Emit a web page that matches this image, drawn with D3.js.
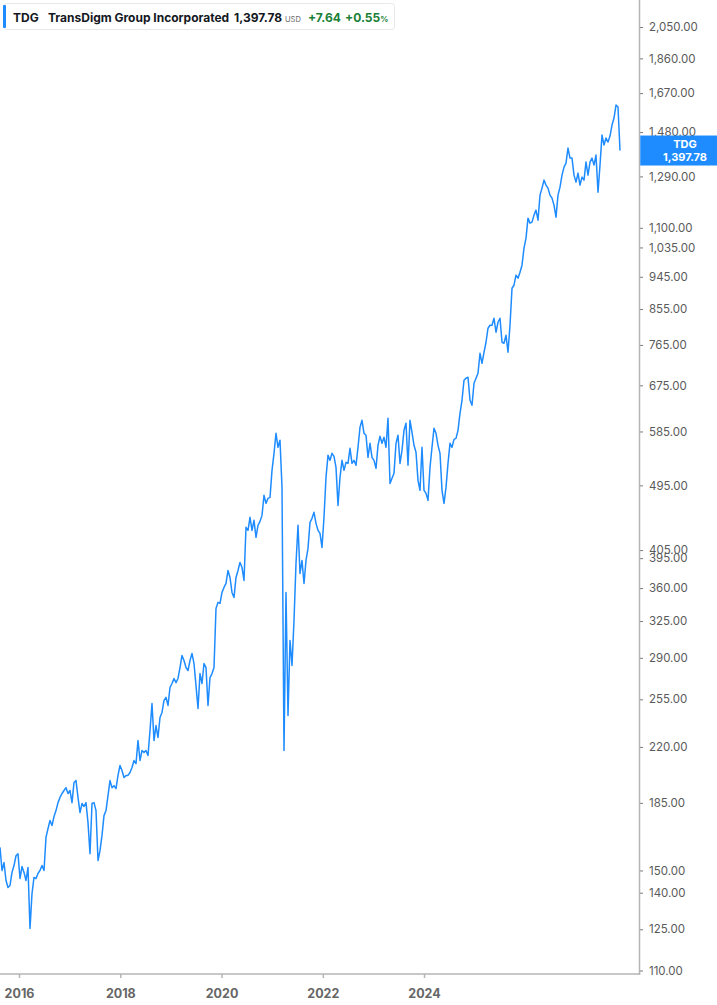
<!DOCTYPE html>
<html>
<head>
<meta charset="utf-8">
<script src="https://cdn.jsdelivr.net/npm/d3@7"></script>
<style>
  html, body { margin: 0; padding: 0; background: #ffffff; }
  svg { display: block; }
</style>
</head>
<body>
<div id="chart"></div>
<script>
// ---------------- DATA ----------------
const ticker = "TDG";
const companyName = "TransDigm Group Incorporated";
const lastPrice = 1397.78;
const currency = "USD";
const change = 7.64;
const changePct = 0.55;

// closing prices, evenly spaced samples from late 2015 to Aug 2025
const closes = [
  161.1, 150.0, 153.7, 145.4, 142.3, 143.2, 149.1, 152.3, 157.0, 158.0,
  146.3, 151.8, 149.1, 145.4, 151.4, 125.3, 139.6, 146.8, 146.3, 148.6,
  150.0, 152.3, 150.0, 166.2, 170.8, 175.1, 172.4, 177.3, 180.6, 185.1,
  188.1, 190.4, 192.2, 193.9, 190.4, 192.2, 185.1, 197.0, 198.2, 188.1,
  179.5, 184.6, 182.9, 185.1, 174.0, 158.0, 184.6, 185.1, 180.6, 154.7,
  159.5, 167.2, 177.8, 180.6, 189.2, 198.2, 193.9, 195.1, 193.3, 201.4,
  207.7, 204.5, 200.1, 201.4, 201.4, 203.2, 206.4, 210.9, 208.9, 224.4,
  210.9, 217.6, 216.3, 217.6, 214.2, 231.5, 251.7, 224.4, 235.1, 226.5,
  241.0, 244.8, 254.1, 256.5, 250.2, 264.5, 267.8, 272.0, 268.6, 272.0,
  281.4, 292.1, 287.6, 281.4, 278.8, 287.6, 294.0, 284.9, 266.1, 247.9,
  276.2, 267.8, 284.9, 281.4, 250.2, 272.8, 276.2, 281.4, 338.0, 344.4,
  343.3, 355.2, 360.7, 365.2, 380.2, 372.0, 355.2, 349.7, 372.0, 380.2,
  389.8, 383.8, 368.6, 434.6, 430.5, 448.3, 430.5, 444.1, 421.3, 437.3,
  442.7, 451.0, 479.9, 468.1, 475.5, 476.9, 518.6, 546.7, 581.7, 557.0,
  569.2, 491.9, 217.6, 355.2, 242.5, 306.0, 283.2, 325.6, 388.6, 437.3,
  376.7, 392.2, 365.2, 392.2, 407.1, 441.4, 446.9, 455.3, 440.0, 430.5,
  426.5, 408.3, 448.3, 507.5, 543.3, 534.9, 546.7, 541.6, 523.4, 465.2,
  507.5, 534.9, 518.6, 531.6, 529.9, 555.2, 529.9, 534.9, 526.7, 557.0,
  592.6, 605.6, 581.7, 578.1, 539.9, 563.9, 539.9, 534.9, 521.8, 560.4,
  576.3, 563.9, 574.5, 557.0, 609.4, 498.0, 505.9, 513.8, 563.9, 578.1,
  529.9, 551.8, 587.1, 600.0, 526.7, 605.6, 583.5, 560.4, 548.4, 502.7,
  487.4, 557.0, 487.4, 482.9, 472.5, 523.4, 557.0, 590.8, 581.7, 560.4,
  546.7, 487.4, 468.1, 491.9, 529.9, 563.9, 557.0, 570.9, 572.7, 587.1,
  618.9, 644.4, 685.6, 689.9, 692.0, 644.4, 634.5, 679.3, 689.9, 700.7,
  745.5, 722.7, 747.8, 771.4, 805.7, 813.2, 813.2, 831.0, 795.7, 820.8,
  831.0, 771.4, 769.0, 788.4, 747.8, 813.2, 912.1, 920.6, 949.6, 940.9,
  958.5, 979.6, 1032.7, 1065.2, 1133.4, 1116.0, 1119.4, 1144.0, 1161.9, 1126.4,
  1217.3, 1244.0, 1275.2, 1255.6, 1244.0, 1217.3, 1206.0, 1180.0, 1136.9, 1217.3,
  1247.8, 1295.1, 1327.8, 1344.3, 1408.4, 1365.4, 1365.4, 1295.1, 1267.3, 1303.2,
  1255.6, 1287.1, 1275.2, 1348.5, 1295.1, 1348.5, 1365.4, 1336.0, 1378.1, 1228.6,
  1336.0, 1466.4, 1421.6, 1452.8, 1434.9, 1461.8, 1512.5, 1545.8, 1609.3, 1599.4,
  1397.78
];

// y-axis tick values
const yTicks = [2050, 1860, 1670, 1480, 1290, 1100, 1035, 945, 855, 765, 675, 585,
                495, 405, 395, 360, 325, 290, 255, 220, 185, 150, 140, 125, 110];
// x-axis tick labels (years)
const xTickYears = [2016, 2018, 2020, 2022, 2024];

// ---------------- LAYOUT ----------------
const W = 717, H = 1005;
const plotRight = 639.5, plotBottom = 974;
const lineColor = "#1e8cff";
const axisColor = "#b5b5b5";
const font = "Inter, 'Noto Sans', sans-serif";

const svg = d3.select("#chart").append("svg")
  .attr("width", W).attr("height", H)
  .style("font-family", font);

// scales
const y = d3.scaleLog().domain([110, 2050]).range([970.5, 27]);
const xLine = d3.scaleLinear().domain([0, closes.length - 1]).range([0, 620]);
const xAxisScale = d3.scaleTime()
  .domain([new Date(2015, 7, 17), new Date(2028, 2, 31)])
  .range([0, plotRight - 0.5]);

// line
const line = d3.line()
  .x((d, i) => xLine(i))
  .y(d => y(d));

svg.append("path")
  .datum(closes)
  .attr("fill", "none")
  .attr("stroke", lineColor)
  .attr("stroke-width", 1.5)
  .attr("stroke-linejoin", "round")
  .attr("d", line);

// right axis
const yAxis = d3.axisRight(y)
  .tickValues(yTicks)
  .tickFormat(d3.format(",.2f"))
  .tickSize(3)
  .tickPadding(6);

const gy = svg.append("g")
  .attr("transform", `translate(${plotRight + 0.5},0)`)
  .call(yAxis);
gy.select(".domain").remove();
gy.selectAll(".tick line").attr("stroke", "#777").attr("stroke-width", 1);
gy.selectAll(".tick text")
  .attr("fill", "#5a5a5a")
  .style("font-size", "11.5px")
  .style("font-family", font);

// bottom axis
const xAxis = d3.axisBottom(xAxisScale)
  .tickValues(xTickYears.map(yr => new Date(yr, 0, 1)))
  .tickFormat(d3.timeFormat("%Y"))
  .tickSize(4)
  .tickPadding(11);

const gx = svg.append("g")
  .attr("transform", `translate(0,${plotBottom})`)
  .call(xAxis);
gx.select(".domain").remove();
gx.selectAll(".tick line").attr("stroke", axisColor).attr("stroke-width", 1.5);
gx.selectAll(".tick text")
  .attr("fill", "#666")
  .style("font-size", "12.5px")
  .style("font-weight", "700")
  .style("font-family", font);

// axis frame lines
svg.append("line")
  .attr("x1", plotRight).attr("x2", plotRight)
  .attr("y1", 0).attr("y2", plotBottom + 0.75)
  .attr("stroke", axisColor).attr("stroke-width", 1.5);
svg.append("line")
  .attr("x1", 0).attr("x2", plotRight + 0.75)
  .attr("y1", plotBottom).attr("y2", plotBottom)
  .attr("stroke", axisColor).attr("stroke-width", 1.5);

// last price tag
const lastY = y(closes[closes.length - 1]);
const tag = svg.append("g");
tag.append("rect")
  .attr("x", plotRight + 0.75).attr("y", lastY - 15)
  .attr("width", W - plotRight).attr("height", 30)
  .attr("fill", "#1e8cff");
tag.append("text")
  .attr("x", 685).attr("y", lastY - 3)
  .attr("text-anchor", "middle")
  .attr("fill", "#fff")
  .style("font-size", "11px").style("font-weight", "700")
  .text(ticker);
tag.append("text")
  .attr("x", 685).attr("y", lastY + 10)
  .attr("text-anchor", "middle")
  .attr("fill", "#fff")
  .style("font-size", "11px").style("font-weight", "700")
  .text(d3.format(",.2f")(closes[closes.length - 1]));

// header box
const hdr = svg.append("g");
hdr.append("rect")
  .attr("x", 3.5).attr("y", 3.5).attr("width", 391).attr("height", 26)
  .attr("rx", 3)
  .attr("fill", "#fff").attr("stroke", "#e8e8e8");
hdr.append("rect")
  .attr("x", 3).attr("y", 5).attr("width", 3).attr("height", 23)
  .attr("rx", 1)
  .attr("fill", "#1e8cff");

const ht = hdr.append("text")
  .attr("y", 21.5)
  .style("font-size", "12px").style("font-weight", "700");
ht.append("tspan").attr("x", 13).attr("fill", "#131722").text(ticker);
ht.append("tspan").attr("x", 48).attr("fill", "#131722").text(companyName);
ht.append("tspan").attr("x", 234).attr("fill", "#131722").text(d3.format(",.2f")(lastPrice));
ht.append("tspan").attr("dx", 3).attr("fill", "#666")
  .style("font-size", "7.5px").style("font-weight", "400").text(currency);
ht.append("tspan").attr("x", 308).attr("fill", "#1a7f37").text("+" + d3.format(".2f")(change));
ht.append("tspan").attr("x", 345).attr("fill", "#1a7f37").text("+" + d3.format(".2f")(changePct));
ht.append("tspan").attr("fill", "#1a7f37")
  .style("font-size", "8px").text("%");
</script>
</body>
</html>
